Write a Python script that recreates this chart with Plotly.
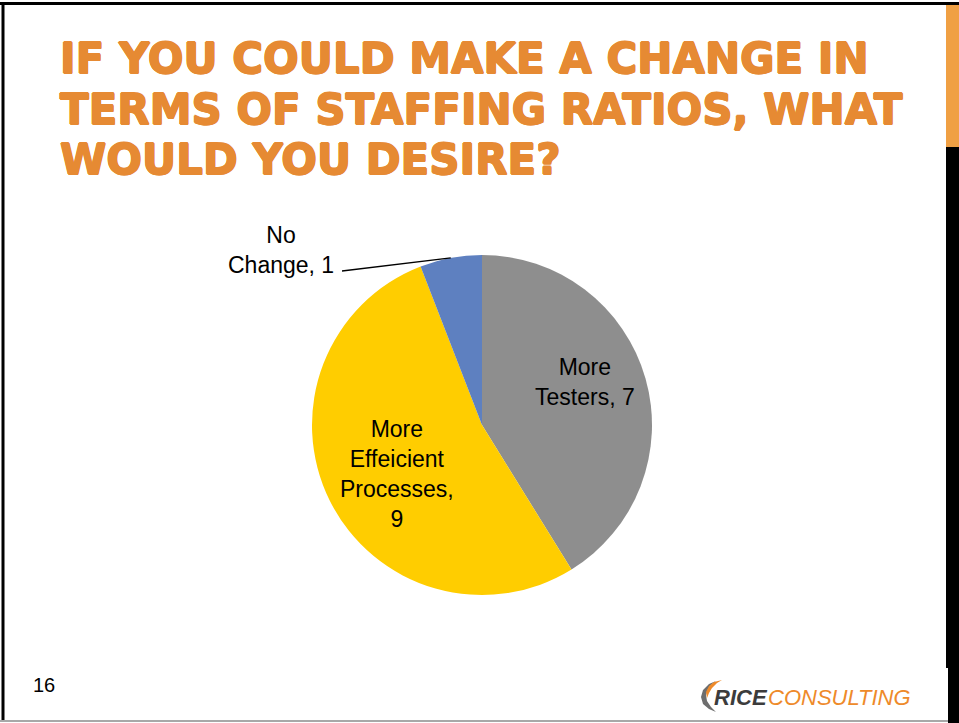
import math
import plotly.graph_objects as go

# Survey answers: desired change in staffing ratios
categories = ["More Testers", "More Effeicient Processes", "No Change"]
responses = [7, 9, 1]
slice_colors = ["#8E8E8E", "#FFCD00", "#5E80C0"]
value_on_own_line = [False, True, False]

title_lines = [
    "IF YOU COULD MAKE A CHANGE IN",
    "TERMS OF STAFFING RATIOS, WHAT",
    "WOULD YOU DESIRE?",
]
page_number = "16"

W, H = 959, 723
ORANGE = "#E68A33"

# pie placement in pixels
CX, CY, R = 482, 425, 170


def px(x):
    return x / W


def py(y):
    return 1 - y / H


def label_text(cat, val, own_line):
    words = "<br>".join(cat.split())
    return words + (",<br>" if own_line else ", ") + str(val)


fig = go.Figure()
fig.add_trace(
    go.Pie(
        labels=categories,
        values=responses,
        sort=False,
        direction="clockwise",
        rotation=0,
        marker=dict(colors=slice_colors, line=dict(width=0)),
        textinfo="none",
        hoverinfo="label+value",
        showlegend=False,
        domain=dict(x=[px(CX - R), px(CX + R)], y=[py(CY + R), py(CY - R)]),
    )
)

# data labels
label_centers = [(585, 382), (397, 474), (281, 250)]
annotations = []
for cat, val, own, (lx, ly) in zip(categories, responses, value_on_own_line, label_centers):
    annotations.append(
        dict(
            x=px(lx), y=py(ly), xref="paper", yref="paper",
            text=label_text(cat, val, own), showarrow=False,
            xanchor="center", yanchor="middle", align="center",
            font=dict(family="Liberation Sans, Arial", size=23, color="#000000"),
        )
    )

# leader line from the small slice label to the middle of its arc
total = sum(responses)
start = sum(responses[:2])
mid_angle = math.radians((start + responses[2] / 2) / total * 360)
ax_end = CX + R * math.sin(mid_angle)
ay_end = CY - R * math.cos(mid_angle)

# title, thickened with a tight text-shadow outline
thick = ", ".join(
    f"{dx}px {dy}px 0 {ORANGE}"
    for dx, dy in [(0.7, 0), (-0.7, 0), (0, 0.7), (0, -0.7), (0.5, 0.5), (-0.5, -0.5)]
)
title_centers = [58, 109, 159]
for line, yc in zip(title_lines, title_centers):
    annotations.append(
        dict(
            x=px(58), y=py(yc), xref="paper", yref="paper",
            text="<b>" + line + "</b>", showarrow=False,
            xanchor="left", yanchor="middle", align="left",
            font=dict(family="DejaVu Sans", size=42, color=ORANGE, shadow=thick),
        )
    )

# page number
annotations.append(
    dict(
        x=px(44), y=py(685), xref="paper", yref="paper", text=page_number,
        showarrow=False, xanchor="center", yanchor="middle",
        font=dict(family="Liberation Sans, Arial", size=20, color="#000000"),
    )
)

# logo wordmark
annotations.append(
    dict(
        x=px(712), y=py(697), xref="paper", yref="paper",
        text="<b><i>RICE</i></b>", showarrow=False,
        xanchor="left", yanchor="middle",
        font=dict(family="Liberation Sans, Arial", size=22, color="#3C3C3C"),
    )
)
annotations.append(
    dict(
        x=px(766), y=py(697), xref="paper", yref="paper",
        text="<i>CONSULTING</i>", showarrow=False,
        xanchor="left", yanchor="middle",
        font=dict(family="Liberation Sans, Arial", size=22, color="#EE8A2A"),
    )
)


def rect(x0, y0, x1, y1, color):
    return dict(
        type="rect", xref="paper", yref="paper",
        x0=px(x0), x1=px(x1), y0=py(y1), y1=py(y0),
        fillcolor=color, line=dict(width=0), layer="above",
    )


def path(points, color):
    d = "M " + " L ".join(f"{px(x)},{py(y)}" for x, y in points) + " Z"
    return dict(type="path", xref="paper", yref="paper", path=d,
                fillcolor=color, line=dict(width=0), layer="above")


shapes = [
    # slide frame
    rect(0, 2, W, 5, "#000000"),
    rect(1.5, 2, 4.5, 721, "#000000"),
    rect(0, 720, 948, 722, "#A8A8A8"),
    rect(946, 5, W, 147, "#F0A044"),
    rect(946, 147, W, 668, "#000000"),
    rect(948, 668, W, H, "#000000"),
    # leader line
    dict(type="line", xref="paper", yref="paper",
         x0=px(342), y0=py(271), x1=px(ax_end), y1=py(ay_end),
         line=dict(color="#000000", width=1.3)),
    # logo swoosh
    path([(716, 681), (709, 684), (703, 690), (701, 697), (703, 704), (709, 709),
          (716, 712), (711, 707), (707, 701), (706, 695), (708, 689), (712, 684)],
         "#6E6E6E"),
    path([(722, 680), (714, 682), (709, 686), (706, 692), (707, 698), (709, 693),
          (712, 688), (717, 683)],
         "#EE8A2A"),
]

fig.update_layout(
    width=W, height=H,
    margin=dict(l=0, r=0, t=0, b=0),
    paper_bgcolor="#FFFFFF",
    plot_bgcolor="#FFFFFF",
    annotations=annotations,
    shapes=shapes,
)

fig.write_html("out.html")
